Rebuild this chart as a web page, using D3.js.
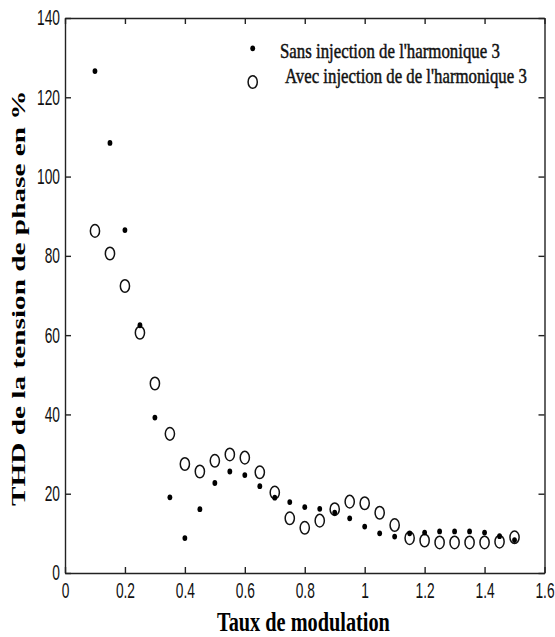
<!DOCTYPE html>
<html>
<head>
<meta charset="utf-8">
<script src="https://cdn.jsdelivr.net/npm/d3@7"></script>
<style>
  html, body { margin: 0; padding: 0; background: #fff; }
  svg { display: block; }
</style>
</head>
<body>
<svg id="chart" width="555" height="637"></svg>
<script>
// Taux de modulation (x) and THD of the phase voltage (%) for both PWM strategies
const modulation = [0.10, 0.15, 0.20, 0.25, 0.30, 0.35, 0.40, 0.45, 0.50, 0.55,
                    0.60, 0.65, 0.70, 0.75, 0.80, 0.85, 0.90, 0.95, 1.00, 1.05,
                    1.10, 1.15, 1.20, 1.25, 1.30, 1.35, 1.40, 1.45, 1.50];
const sansInjection = [126.6, 108.5, 86.5, 62.5, 39.2, 19.1, 8.8, 16.1, 22.7, 25.6,
                       24.7, 21.9, 19.0, 17.9, 16.6, 16.2, 15.2, 13.8, 11.7, 10.0,
                       9.2, 10.0, 10.2, 10.5, 10.5, 10.5, 10.2, 9.3, 8.3];
const avecInjection = [86.3, 80.6, 72.4, 60.6, 47.8, 35.1, 27.5, 25.6, 28.3, 29.9,
                       29.1, 25.4, 20.3, 13.8, 11.4, 13.2, 16.1, 18.0, 17.6, 15.2,
                       12.1, 8.8, 8.2, 7.7, 7.7, 7.7, 7.7, 7.9, 9.0];
const xTicks = [0, 0.2, 0.4, 0.6, 0.8, 1, 1.2, 1.4, 1.6];
const yTicks = [0, 20, 40, 60, 80, 100, 120, 140];
const legendLabels = ["Sans injection de l'harmonique 3", "Avec injection de de l'harmonique 3"];
const xTitle = "Taux de modulation";
const yTitle = "THD de la tension de phase en %";

const svg = d3.select("#chart");
const plot = { left: 65, right: 544.5, top: 18, bottom: 573 };

const x = d3.scaleLinear().domain([0, 1.6]).range([plot.left, plot.right]);
const y = d3.scaleLinear().domain([0, 140]).range([plot.bottom, plot.top]);

const axisColor = "#222";
const tickFont = "'Liberation Sans', Arial, sans-serif";
const serif = "'Liberation Serif', 'Times New Roman', serif";
const squeeze = 0.64;

// narrow a text horizontally about its anchor point
function narrow(sel, factor) {
  sel.each(function () {
    const t = d3.select(this);
    const tx = +t.attr("x") || 0;
    t.attr("x", 0).attr("transform", `translate(${tx},0) scale(${factor},1)`);
  });
}

// stretch/squeeze a text to a given width, placed with its start at (px, py)
function fitText(sel, px, py, width, angle) {
  const w = sel.node().getComputedTextLength();
  const k = width / w;
  sel.attr("x", 0).attr("y", 0)
    .attr("transform", `translate(${px},${py}) rotate(${angle || 0}) scale(${k},1)`);
}

function styleAxis(g) {
  g.select(".domain").attr("stroke", axisColor).attr("stroke-width", 1.4);
  g.selectAll(".tick line").attr("stroke", axisColor).attr("stroke-width", 1.4);
  g.selectAll(".tick text")
    .attr("fill", "#111")
    .style("font-family", tickFont)
    .style("font-size", "21.5px")
    .call(narrow, squeeze);
}

// bottom and left axes with labels, inward ticks
svg.append("g")
  .attr("transform", `translate(0,${plot.bottom})`)
  .call(d3.axisBottom(x).tickValues(xTicks).tickFormat(d3.format("")).tickSizeInner(-6).tickSizeOuter(0).tickPadding(10))
  .call(styleAxis);

svg.append("g")
  .attr("transform", `translate(${plot.left},0)`)
  .call(d3.axisLeft(y).tickValues(yTicks).tickSizeInner(-6).tickSizeOuter(0).tickPadding(5))
  .call(styleAxis);

// top and right axes closing the box, ticks only
svg.append("g")
  .attr("transform", `translate(0,${plot.top})`)
  .call(d3.axisTop(x).tickValues(xTicks).tickFormat("").tickSizeInner(-6).tickSizeOuter(0))
  .call(styleAxis);

svg.append("g")
  .attr("transform", `translate(${plot.right},0)`)
  .call(d3.axisRight(y).tickValues(yTicks).tickFormat("").tickSizeInner(-6).tickSizeOuter(0))
  .call(styleAxis);

// open markers: avec injection
svg.append("g").selectAll("ellipse")
  .data(modulation.map((m, i) => [m, avecInjection[i]]))
  .join("ellipse")
  .attr("cx", d => x(d[0]))
  .attr("cy", d => y(d[1]))
  .attr("rx", 4.6)
  .attr("ry", 6.3)
  .attr("fill", "none")
  .attr("stroke", "#111")
  .attr("stroke-width", 1.5);

// filled markers: sans injection
svg.append("g").selectAll("ellipse")
  .data(modulation.map((m, i) => [m, sansInjection[i]]))
  .join("ellipse")
  .attr("cx", d => x(d[0]))
  .attr("cy", d => y(d[1]))
  .attr("rx", 2.4)
  .attr("ry", 2.9)
  .attr("fill", "#000");

// legend
const legend = svg.append("g");
legend.append("ellipse").attr("cx", 252.7).attr("cy", 48.3).attr("rx", 2.4).attr("ry", 2.9).attr("fill", "#000");
legend.append("ellipse").attr("cx", 252.7).attr("cy", 82).attr("rx", 4.6).attr("ry", 6.3)
  .attr("fill", "none").attr("stroke", "#111").attr("stroke-width", 1.5);
legend.append("text")
  .style("font-family", serif).style("font-size", "20px")
  .attr("fill", "#111").attr("stroke", "#111").attr("stroke-width", 0.45)
  .text(legendLabels[0])
  .call(fitText, 280, 58, 220);
legend.append("text")
  .style("font-family", serif).style("font-size", "20px")
  .attr("fill", "#111").attr("stroke", "#111").attr("stroke-width", 0.45)
  .text(legendLabels[1])
  .call(fitText, 285, 83.3, 242);

// axis titles
svg.append("text")
  .style("font-family", serif).style("font-size", "27px").style("font-weight", "bold")
  .attr("fill", "#000")
  .text(xTitle)
  .call(fitText, 217, 631, 173);

svg.append("text")
  .style("font-family", serif).style("font-size", "18px").style("font-weight", "bold")
  .attr("fill", "#000")
  .text(yTitle)
  .call(fitText, 25, 506, 416, -90);
</script>
</body>
</html>
